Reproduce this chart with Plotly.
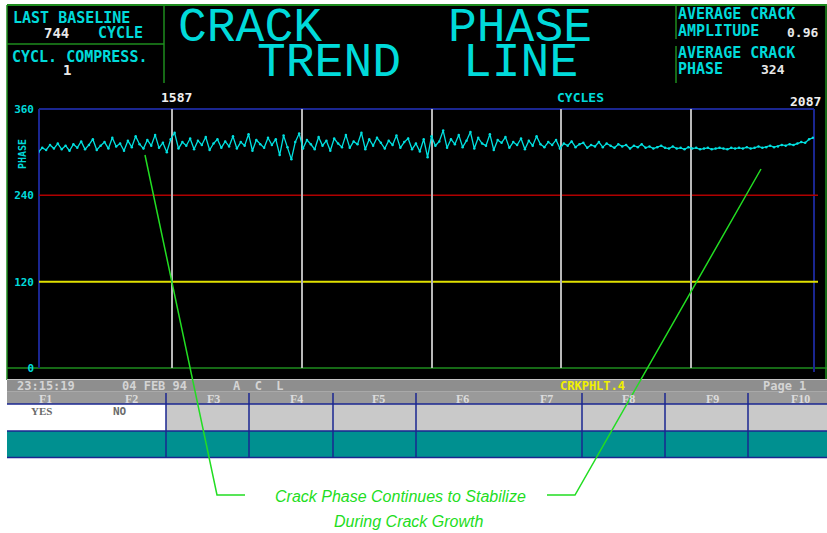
import plotly.graph_objects as go

W, H = 827, 533

# ---------------- data ----------------
CYCLE_START = 1484
CYCLE_STEP = 3
PHASE = [
    300, 306, 303, 310, 305, 312, 304, 309, 302, 311,
    306, 315, 304, 310, 318, 303, 309, 314, 305, 320,
    308, 312, 302, 316, 307, 322, 311, 305, 317, 309,
    324, 306, 313, 300, 318, 327, 305, 314, 309, 319,
    304, 316, 310, 321, 303, 312, 318, 306, 315, 308,
    322, 305, 314, 309, 325, 302, 317, 311, 306, 320,
    310, 318, 296, 323, 307, 290, 314, 326, 305, 317,
    311, 304, 321, 309, 316, 302, 319, 312, 307, 324,
    306, 315, 311, 327, 304, 318, 309, 320, 313, 305,
    316, 310, 323, 306, 314, 319, 304, 312, 301, 318,
    293, 322, 309, 315, 330, 306, 318, 311, 324, 307,
    316, 328, 305, 320, 312, 309, 325, 303, 317, 313,
    321, 306, 314, 310, 319, 304, 316, 309, 322, 311,
    307, 314, 310, 317, 305, 312, 309, 315, 307, 311,
    313, 306, 310, 308, 314, 307, 312, 309, 306, 311,
    308, 310, 305, 309, 307, 311, 306, 308, 305, 307,
    309, 306, 305, 308, 305, 306, 304, 307, 305, 306,
    304, 305, 306, 304, 305, 306, 305, 304, 306, 305,
    306, 305, 307, 305, 306, 308, 306, 307, 309, 307,
    308, 310, 309, 311, 310, 312, 314, 313, 318, 320,
]
GRID_CYCLES = [1587, 1687, 1787, 1887, 1987]
X_RANGE = [1484.5, 2081.8]
Y_RANGE = [0, 360]
Y_TICKS = [0, 120, 240, 360]
Y_TICK_TEXT = ["0", "120", "240", "360"]
LEVEL_RED = 240
LEVEL_YELLOW = 120
START_LABEL = "1587"
END_LABEL = "2087"
BASELINE = "744"
COMPRESS = "1"
AVG_AMP = "0.96"
AVG_PHASE = "324"
F_KEYS = ["F1", "F2", "F3", "F4", "F5", "F6", "F7", "F8", "F9", "F10"]

# ---------------- styling ----------------
CYAN = "#00dada"
BLUE = "#1a2690"
GREEN = "#1e8c1e"
CALL = "#22dd22"
MONO = "DejaVu Sans Mono"


def px(x):
    return x / W


def py(y):
    return 1 - y / H


shapes = []
annotations = []


def rect(x0, y0, x1, y1, fill, layer="below"):
    shapes.append(dict(type="rect", xref="paper", yref="paper",
                       x0=px(x0), x1=px(x1), y0=py(y0), y1=py(y1),
                       fillcolor=fill, line=dict(width=0), layer=layer))


def seg(x0, y0, x1, y1, color, width=1.5, layer="below"):
    shapes.append(dict(type="line", xref="paper", yref="paper",
                       x0=px(x0), x1=px(x1), y0=py(y0), y1=py(y1),
                       line=dict(color=color, width=width), layer=layer))


def txt(s, x, y, size, color, family=MONO, anchor="left", bold=True,
        angle=0, italic=False):
    t = s
    if bold:
        t = "<b>" + t + "</b>"
    if italic:
        t = "<i>" + t + "</i>"
    annotations.append(dict(text=t, x=px(x), y=py(y), xref="paper", yref="paper",
                            xanchor=anchor, yanchor="middle", showarrow=False,
                            textangle=angle, borderpad=0,
                            font=dict(family=family, size=size, color=color)))


# black screen
rect(7, 5, 827, 380, "black")
# green frame lines
seg(7, 5, 827, 5, GREEN, 2)
seg(7, 5, 7, 380, GREEN, 1.5)
seg(826, 5, 826, 380, GREEN, 1.5)
seg(164, 5, 164, 83, GREEN, 1.5)
seg(7, 44, 164, 44, GREEN, 1.5)
seg(676, 5, 676, 39, GREEN, 1.5)
seg(676, 46, 676, 83, GREEN, 1.5)
seg(7, 368, 827, 368, GREEN, 1.5)
# plot frame (blue)
seg(39, 109, 814, 109, BLUE, 2)
seg(39, 109, 39, 368, BLUE, 2)
seg(814, 109, 814, 372, BLUE, 2)

# status bar / function key panel
rect(7, 379, 827, 392, "#8e8e8e")
seg(7, 379.5, 827, 379.5, "#c4c4c4", 1)
seg(7, 392, 827, 392, "#c4c4c4", 1)
rect(7, 392, 827, 404, "#9a9a9a")
rect(7, 404, 166, 431, "white")
rect(166, 404, 827, 431, "#c9c9c9")
rect(7, 431, 827, 457, "#009090")
seg(7, 404, 827, 404, BLUE, 1.5)
seg(7, 431, 827, 431, BLUE, 1.5)
seg(7, 457.5, 827, 457.5, BLUE, 1.5)
for xv in [166, 249, 333, 416, 582, 665, 748]:
    seg(xv, 393, xv, 458, BLUE, 1.5)

# header texts
txt("LAST BASELINE", 12, 17.5, 15, CYAN)
txt(BASELINE, 43, 32.5, 14, "#e8e8e8")
txt("CYCLE", 97, 32.5, 15, CYAN)
txt("CYCL. COMPRESS.", 11, 57, 15, CYAN)
txt(COMPRESS, 62, 69.5, 14, "#e8e8e8")
txt("AVERAGE CRACK", 677, 14.5, 15, CYAN)
txt("AMPLITUDE", 677, 31, 15, CYAN)
txt(AVG_AMP, 786, 33, 13, "#e8e8e8")
txt("AVERAGE CRACK", 677, 53, 15, CYAN)
txt("PHASE", 677, 69, 15, CYAN)
txt(AVG_PHASE, 760, 69, 13, "#e8e8e8")

TITLE_FONT = "Liberation Mono"
txt("CRACK", 250, 28, 48, CYAN, family=TITLE_FONT, anchor="center", bold=False)
txt("PHASE", 520, 28, 48, CYAN, family=TITLE_FONT, anchor="center", bold=False)
txt("TREND", 329, 63, 48, CYAN, family=TITLE_FONT, anchor="center", bold=False)
txt("LINE", 520, 63, 48, CYAN, family=TITLE_FONT, anchor="center", bold=False)

# plot annotations
txt(START_LABEL, 176, 98, 13, "#f0f0f0", anchor="center")
txt("CYCLES", 580, 98, 13, CYAN, anchor="center")
txt(END_LABEL, 805, 101, 13, "#f0f0f0", anchor="center")
txt("PHASE", 23, 154, 10, CYAN, angle=-90, anchor="center")

# status bar
txt("23:15:19", 16, 386, 12, "#d4d4d4")
txt("04 FEB 94", 121, 386, 12, "#d4d4d4")
txt("A  C  L", 232, 386, 12, "#d4d4d4")
txt("CRKPHLT.4", 592, 386, 12, "#f0f000", anchor="center")
txt("Page 1", 784, 386, 12, "#d4d4d4", anchor="center")
F_X = [45, 131, 213, 296, 378, 462, 546, 628, 712, 800]
for k, fx in zip(F_KEYS, F_X):
    txt(k, fx, 398.5, 12, "#dcdcdc", family="Liberation Serif", anchor="center")
txt("YES", 41, 411, 11, "#6a6a6a", family="Liberation Serif", anchor="center")
txt("NO", 120, 411, 11, "#6a6a6a", anchor="center")

# callouts
shapes.append(dict(type="path", xref="paper", yref="paper",
                   path="M {} {} L {} {} L {} {}".format(px(145), py(155), px(217), py(495), px(245), py(495)),
                   line=dict(color=CALL, width=1.5), layer="above"))
shapes.append(dict(type="path", xref="paper", yref="paper",
                   path="M {} {} L {} {} L {} {}".format(px(761), py(169), px(575), py(495), px(547), py(495)),
                   line=dict(color=CALL, width=1.5), layer="above"))
txt("Crack Phase Continues to Stabilize", 400, 496, 16, CALL,
    family="Liberation Sans", anchor="center", bold=False, italic=True)
txt("During Crack Growth", 408, 521, 16, CALL,
    family="Liberation Sans", anchor="center", bold=False, italic=True)

# reference level lines in data coordinates
shapes.append(dict(type="line", xref="paper", yref="y", x0=px(39), x1=px(818),
                   y0=LEVEL_RED, y1=LEVEL_RED, line=dict(color="#b00000", width=1.5), layer="below"))
shapes.append(dict(type="line", xref="paper", yref="y", x0=px(39), x1=px(818),
                   y0=LEVEL_YELLOW, y1=LEVEL_YELLOW, line=dict(color="#e0e000", width=2), layer="below"))

fig = go.Figure()
fig.add_trace(go.Scatter(
    x0=CYCLE_START, dx=CYCLE_STEP, y=PHASE,
    mode="lines+markers",
    line=dict(color="#00e0e0", width=1.3),
    marker=dict(color="#00e0e0", size=2.5),
    hoverinfo="skip", showlegend=False,
))

fig.update_layout(
    width=W, height=H,
    margin=dict(l=0, r=0, t=0, b=0, pad=0, autoexpand=False),
    paper_bgcolor="white",
    plot_bgcolor="rgba(0,0,0,0)",
    showlegend=False,
    shapes=shapes,
    annotations=annotations,
    xaxis=dict(domain=[px(39), px(814)], range=X_RANGE, showline=False,
               showgrid=True, gridcolor="#b8b8b8", gridwidth=1.5,
               tickvals=GRID_CYCLES, showticklabels=False, ticks="",
               zeroline=False, fixedrange=True, automargin=False),
    yaxis=dict(domain=[py(368), py(109)], range=Y_RANGE, showline=False,
               showgrid=False, zeroline=False, tickvals=Y_TICKS, ticktext=Y_TICK_TEXT,
               ticks="", ticklabelstandoff=4, automargin=False,
               tickfont=dict(family=MONO, size=11, color=CYAN, weight="bold"),
               fixedrange=True),
)

fig.write_html("out.html", config={"displayModeBar": False},
               post_script="document.body.style.margin='0';document.body.style.overflow='hidden';")
